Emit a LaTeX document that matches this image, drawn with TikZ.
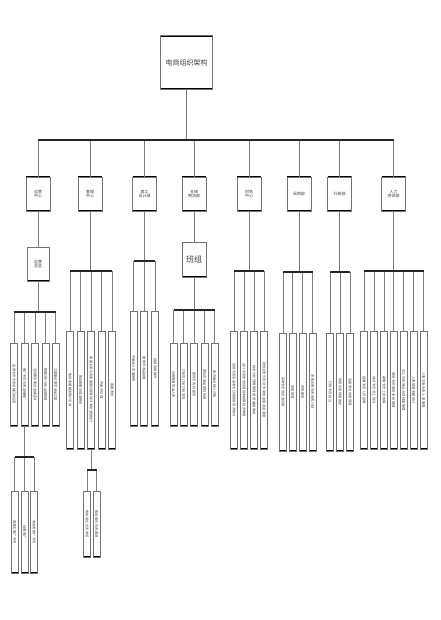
\documentclass[tikz,border=0pt]{standalone}
\usepackage{fontspec}
\usepackage{graphicx}
\newfontfamily\cjk{Noto Sans CJK SC}
\tikzset{
  conn/.style={draw=black!50, line width=0.6pt},
  bus/.style={draw=black!85, line width=1.3pt},
  box/.style={draw=black!55, line width=0.5pt, fill=white, inner sep=0pt, text=black!75,
    path picture={\draw[black, line width=2.6pt]
      (path picture bounding box.north west) -- (path picture bounding box.north east)
      (path picture bounding box.south west) -- (path picture bounding box.south east);}},
  topbox/.style={box, minimum width=52pt, minimum height=54pt, font=\cjk\fontsize{7}{8}\selectfont},
  deptbox/.style={box, minimum width=24pt, minimum height=34pt, align=center, font=\cjk\fontsize{4}{4.8}\selectfont},
  leaf/.style={box, minimum width=7pt, font=\cjk\fontsize{3.2}{3.6}\selectfont},
}
\newcommand\leafnode[5]{\node[leaf, minimum height=#4pt] (#1) at (#2,#3) {\rotatebox{-90}{#5}};}
\begin{document}
\begin{tikzpicture}[x=1pt,y=-1pt]
\useasboundingbox[fill=white] (0,0) rectangle (440,620);
% title
\node[topbox] (title) at (186.5,62.5) {电商组织架构};
% departments
\node[deptbox] (d1) at (38,194) {运营\\中心};
\node[deptbox] (d2) at (90,194) {客服\\中心};
\node[deptbox] (d3) at (144.5,194) {美工\\设计部};
\node[deptbox] (d4) at (194,194) {仓储\\物流部};
\node[deptbox] (d5) at (249,194) {财务\\中心};
\node[deptbox] (d6) at (299,194) {采购部};
\node[deptbox] (d7) at (339.5,194) {行政部};
\node[deptbox] (d8) at (393.5,194) {人力\\资源部};
% second level boxes
\node[deptbox, minimum width=22pt] (s1) at (38,264) {运营\\总监};
\node[deptbox, minimum height=35pt, font=\cjk\fontsize{8}{9}\selectfont] (s4) at (194,259.5) {班组};
% group 1
\leafnode{a1}{14}{384.5}{83}{运营专员 负责店铺日常运营}
\leafnode{a2}{24.5}{384.5}{83}{推广专员 负责店铺推广}
\leafnode{a3}{35}{384.5}{83}{活动策划 策划店铺活动}
\leafnode{a4}{45.5}{384.5}{83}{数据分析 分析运营数据}
\leafnode{a5}{55.5}{384.5}{83}{文案策划 撰写商品文案}
\leafnode{e1}{14.5}{532}{82}{直通车 推广 专员}
\leafnode{e2}{24.5}{532}{82}{钻展 推广}
\leafnode{e3}{34}{532}{82}{淘宝客 推广 专员}
% group 2
\leafnode{b1}{70}{390}{118}{售前客服 解答客户咨询}
\leafnode{b2}{80.5}{390}{118}{售后客服 处理退换货}
\leafnode{b3}{91}{390}{118}{客服主管 负责客服团队管理 培训考核 绩效统计}
\leafnode{b4}{101.5}{390}{118}{中差评 处理}
\leafnode{b5}{112}{390}{118}{客服 质检}
\leafnode{f1}{87}{524}{66}{售前 组长 负责 排班}
\leafnode{f2}{96.5}{524}{66}{售后 组长 负责 跟进}
% group 3
\leafnode{c1}{133.5}{368.5}{115}{平面设计 页面装修}
\leafnode{c2}{144}{368.5}{115}{摄影师 商品拍摄}
\leafnode{c3}{155}{368.5}{115}{视频 剪辑 制作}
% group 4
\leafnode{g1}{173.5}{384.5}{83}{仓库管理 货品入库}
\leafnode{g2}{183.5}{384.5}{83}{打包员 订单打包 发货}
\leafnode{g3}{194}{384.5}{83}{配货员 拣货 配货}
\leafnode{g4}{204.5}{384.5}{83}{质检员 商品质检 包装}
\leafnode{g5}{214.5}{384.5}{83}{库存盘点 统计 对账}
% group 5
\leafnode{h1}{234}{390}{118}{出纳 负责资金收支 日常报销 账务核对}
\leafnode{h2}{244}{390}{118}{会计 负责账务处理 成本核算 税务申报}
\leafnode{h3}{254}{390}{118}{财务 分析 预算 管理 报表 编制 审核}
\leafnode{h4}{264}{390}{118}{财务主管 负责 财务 审核 监督 资金 调度}
% group 6
\leafnode{i1}{283}{392}{118}{采购专员 供应商对接}
\leafnode{i2}{292.5}{392}{118}{采购 助理}
\leafnode{i3}{302.5}{392}{118}{采购 跟单}
\leafnode{i4}{312.5}{392}{118}{采购主管 负责 采购 计划}
% group 7
\leafnode{j1}{330}{392}{118}{行政 专员 前台}
\leafnode{j2}{340}{392}{118}{网管 负责 网络 维护}
\leafnode{j3}{350}{392}{118}{后勤 保洁 安保 管理}
% group 8
\leafnode{k1}{364}{390}{118}{招聘 专员 人员 招聘}
\leafnode{k2}{374}{390}{118}{培训 专员 员工 培训}
\leafnode{k3}{384}{390}{118}{薪酬 专员 工资 核算}
\leafnode{k4}{393.5}{390}{118}{绩效 专员 绩效 考核 管理}
\leafnode{k5}{403.5}{390}{118}{员工 关系 劳动 合同 档案 管理}
\leafnode{k6}{413.5}{390}{118}{人事 助理 考勤 统计}
\leafnode{k7}{423.5}{390}{118}{人事 主管 负责 人事 管理}
% bus levels
\coordinate (y0) at (0,140);
\coordinate (y1) at (0,312);
\coordinate (y1b) at (0,457);
\coordinate (y2) at (0,271);
\coordinate (y2b) at (0,470);
\coordinate (y3) at (0,261);
\coordinate (y4) at (0,310);
\coordinate (y5) at (0,271);
\coordinate (y6) at (0,272);
\coordinate (y7) at (0,272);
\coordinate (y8) at (0,271);
% main
\draw[conn] (title.south) -- (title.south |- y0);
\foreach \n in {d1,d2,d3,d4,d5,d6,d7,d8} \draw[conn] (\n.north) -- (\n.north |- y0);
\draw[bus] (d1.north |- y0) -- (d8.north |- y0);
% dept to second level
\draw[conn] (d1.south) -- (s1.north);
\draw[conn] (d4.south) -- (s4.north);
% group 1
\draw[conn] (s1.south) -- (s1.south |- y1);
\foreach \n in {a1,a2,a3,a4,a5} \draw[conn] (\n.north) -- (\n.north |- y1);
\draw[bus] (a1.north |- y1) -- (a5.north |- y1);
\draw[conn] (a2.south) -- (a2.south |- y1b);
\foreach \n in {e1,e2,e3} \draw[conn] (\n.north) -- (\n.north |- y1b);
\draw[bus] (e1.north |- y1b) -- (e3.north |- y1b);
% group 2
\draw[conn] (d2.south) -- (d2.south |- y2);
\foreach \n in {b1,b2,b3,b4,b5} \draw[conn] (\n.north) -- (\n.north |- y2);
\draw[bus] (b1.north |- y2) -- (b5.north |- y2);
\draw[conn] (b3.south) -- (b3.south |- y2b);
\foreach \n in {f1,f2} \draw[conn] (\n.north) -- (\n.north |- y2b);
\draw[bus] (f1.north |- y2b) -- (f2.north |- y2b);
% group 3
\draw[conn] (d3.south) -- (d3.south |- y3);
\foreach \n in {c1,c2,c3} \draw[conn] (\n.north) -- (\n.north |- y3);
\draw[bus] (c1.north |- y3) -- (c3.north |- y3);
% group 4
\draw[conn] (s4.south) -- (s4.south |- y4);
\foreach \n in {g1,g2,g3,g4,g5} \draw[conn] (\n.north) -- (\n.north |- y4);
\draw[bus] (g1.north |- y4) -- (g5.north |- y4);
% group 5
\draw[conn] (d5.south) -- (d5.south |- y5);
\foreach \n in {h1,h2,h3,h4} \draw[conn] (\n.north) -- (\n.north |- y5);
\draw[bus] (h1.north |- y5) -- (h4.north |- y5);
% group 6
\draw[conn] (d6.south) -- (d6.south |- y6);
\foreach \n in {i1,i2,i3,i4} \draw[conn] (\n.north) -- (\n.north |- y6);
\draw[bus] (i1.north |- y6) -- (i4.north |- y6);
% group 7
\draw[conn] (d7.south) -- (d7.south |- y7);
\foreach \n in {j1,j2,j3} \draw[conn] (\n.north) -- (\n.north |- y7);
\draw[bus] (j1.north |- y7) -- (j3.north |- y7);
% group 8
\draw[conn] (d8.south) -- (d8.south |- y8);
\foreach \n in {k1,k2,k3,k4,k5,k6,k7} \draw[conn] (\n.north) -- (\n.north |- y8);
\draw[bus] (k1.north |- y8) -- (k7.north |- y8);
\end{tikzpicture}
\end{document}
